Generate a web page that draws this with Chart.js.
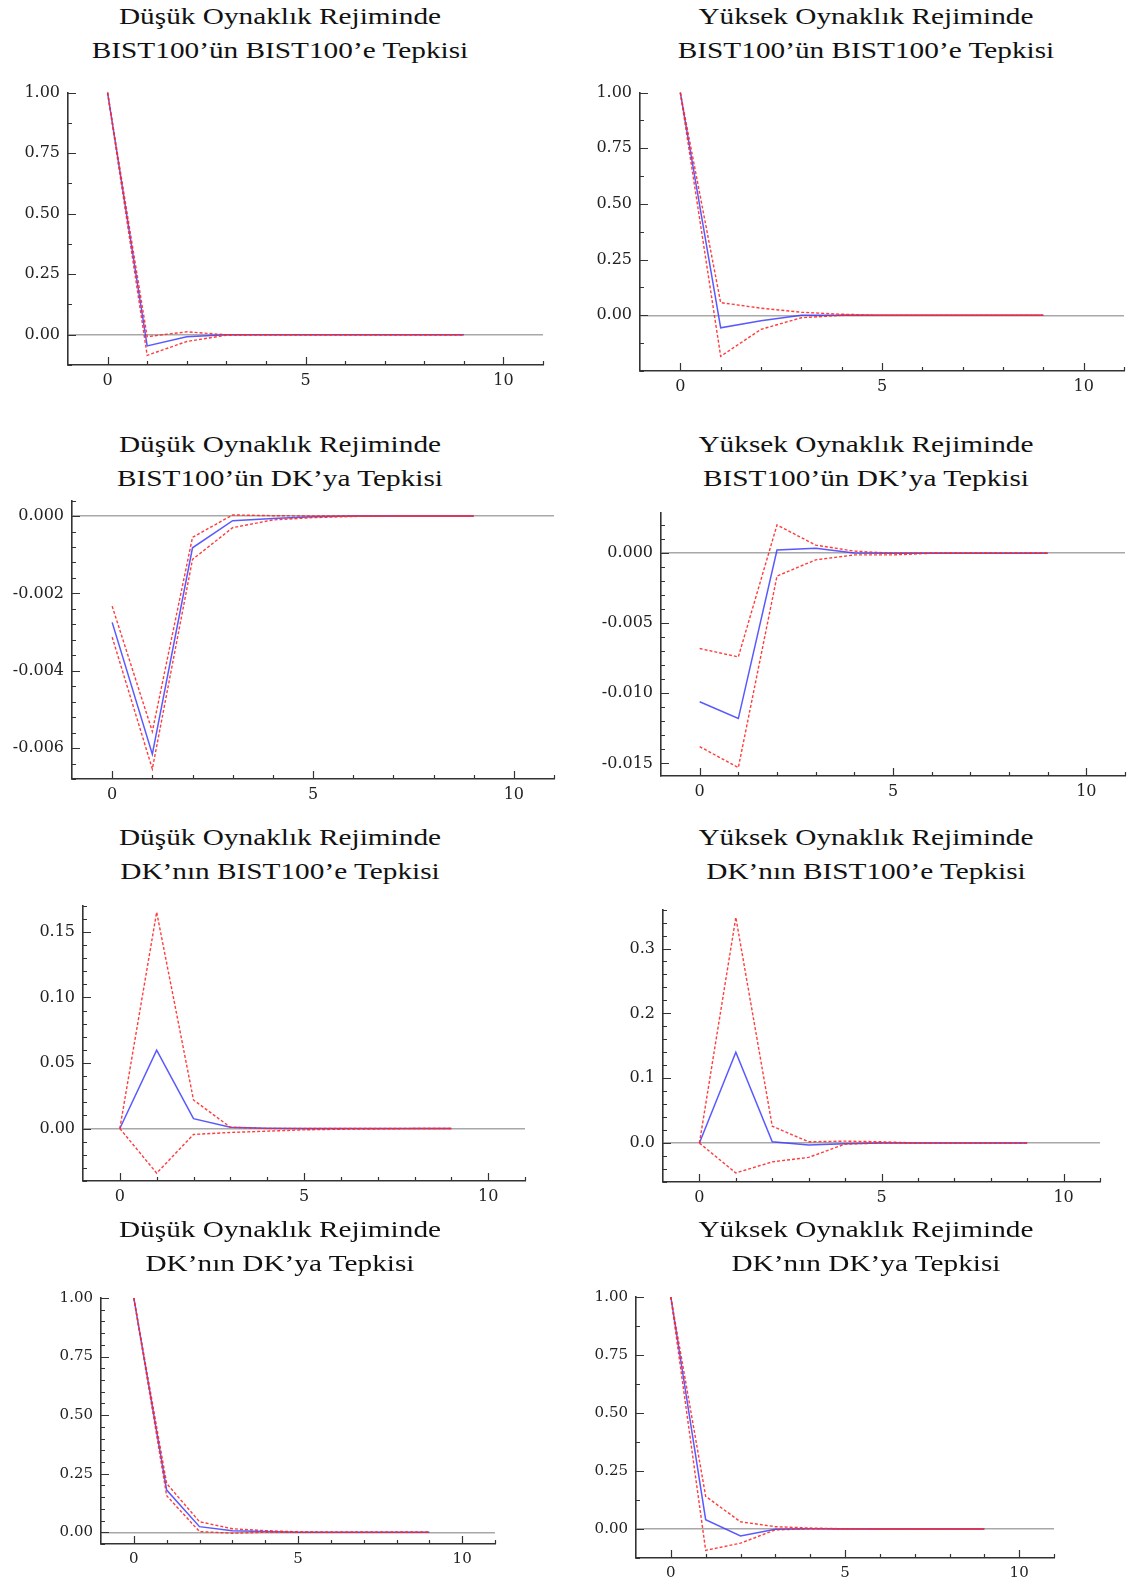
<!DOCTYPE html>
<html>
<head>
<meta charset="utf-8">
<script src="https://cdn.jsdelivr.net/npm/chart.js@4.4.1/dist/chart.umd.min.js"></script>
<style>
    body { margin: 0; background: #fff; width: 1136px; height: 1584px; position: relative; overflow: hidden; font-family: "Liberation Serif", "Times New Roman", serif; }
    .title { position: absolute; width: 480px; text-align: center; font-size: 24px; line-height: 33.6px; color: #111; white-space: nowrap; transform: scaleX(1.22); transform-origin: 50% 0; }
    canvas { position: absolute; }
</style>
</head>
<body>
<script>
// impulse horizon (periods) and x axis labels
const horizon = [0, 1, 2, 3, 4, 5, 6, 7, 8, 9];
const xTicks = [0, 5, 10];

const regimeLow = 'Düşük Oynaklık Rejiminde';
const regimeHigh = 'Yüksek Oynaklık Rejiminde';
const respBistBist = 'BIST100’ün BIST100’e Tepkisi';
const respBistDk = 'BIST100’ün DK’ya Tepkisi';
const respDkBist = 'DK’nın BIST100’e Tepkisi';
const respDkDk = 'DK’nın DK’ya Tepkisi';

// y tick labels
const yTicksUnit = [0, 0.25, 0.5, 0.75, 1];
const yTicksLowBistDk = [-0.006, -0.004, -0.002, 0];
const yTicksHighBistDk = [-0.015, -0.010, -0.005, 0];
const yTicksLowDkBist = [0, 0.05, 0.10, 0.15];
const yTicksHighDkBist = [0, 0.1, 0.2, 0.3];

// responses: point estimate, upper band, lower band
const lowBistBist   = [1.0, -0.046, -0.008, 0, 0, 0, 0, 0, 0, 0];
const lowBistBistUp = [1.0, -0.008, 0.012, 0, 0, 0, 0, 0, 0, 0];
const lowBistBistLo = [1.0, -0.085, -0.028, -0.002, 0, 0, 0, 0, 0, 0];

const highBistBist   = [1.0, -0.056, -0.024, 0, 0, 0, 0, 0, 0, 0];
const highBistBistUp = [1.0, 0.057, 0.032, 0.014, 0.005, 0, 0, 0, 0, 0];
const highBistBistLo = [1.0, -0.184, -0.063, -0.011, 0, 0, 0, 0, 0, 0];

const lowBistDk   = [-0.00275, -0.00616, -0.00082, -0.00012, -0.00006, -0.00002, 0, 0, 0, 0];
const lowBistDkUp = [-0.00233, -0.00557, -0.00055, 0.00003, 0.00001, 0, 0, 0, 0, 0];
const lowBistDkLo = [-0.00313, -0.00654, -0.00112, -0.0003, -0.0001, -0.00004, -0.00001, 0, 0, 0];

const highBistDk   = [-0.0106, -0.0118, 0.00023, 0.00035, 0.00002, 0, 0, 0, 0, 0];
const highBistDkUp = [-0.0068, -0.0074, 0.00202, 0.00058, 0.00015, 0, 0, 0, 0, 0];
const highBistDkLo = [-0.0138, -0.0153, -0.00163, -0.00047, -0.00012, -0.00012, 0, 0, 0, 0];

const lowDkBist   = [0, 0.0598, 0.0075, 0.001, 0.0002, 0, 0, 0, 0, 0];
const lowDkBistUp = [0, 0.165, 0.0218, 0.001, 0, 0, 0, 0, 0, 0];
const lowDkBistLo = [0, -0.034, -0.0045, -0.003, -0.002, -0.001, -0.0005, -0.0003, 0, 0];

const highDkBist   = [0, 0.140, 0.002, -0.003, -0.001, 0, 0, 0, 0, 0];
const highDkBistUp = [0, 0.348, 0.026, 0.002, 0.003, 0.002, 0, 0, 0, 0];
const highDkBistLo = [0, -0.046, -0.029, -0.022, -0.0015, 0, 0, 0, 0, 0];

const lowDkDk   = [1.0, 0.18, 0.024, 0.007, 0.003, 0, 0, 0, 0, 0];
const lowDkDkUp = [1.0, 0.208, 0.045, 0.015, 0.007, 0.002, 0, 0, 0, 0];
const lowDkDkLo = [1.0, 0.156, 0.003, -0.004, 0, 0, 0, 0, 0, 0];

const highDkDk   = [1.0, 0.04, -0.03, -0.001, 0.001, 0, 0, 0, 0, 0];
const highDkDkUp = [1.0, 0.141, 0.031, 0.01, 0.004, 0.001, 0, 0, 0, 0];
const highDkDkLo = [1.0, -0.092, -0.061, -0.004, 0.001, 0, 0, 0, 0, 0];

// panel layout: box = [axis left, plot top, plot right, axis bottom] in page px
const panels = [
    { t: [regimeLow, respBistBist], col: 0, row: 0, box: [68, 87, 543, 365], yr: [-0.125, 1], minor: 0.125, dec: 2, fs: 16,
      irf: lowBistBist, up: lowBistBistUp, lo: lowBistBistLo, yt: yTicksUnit },
    { t: [regimeHigh, respBistBist], col: 1, row: 0, box: [640, 87, 1124, 371], yr: [-0.25, 1], minor: 0.125, dec: 2, fs: 16,
      irf: highBistBist, up: highBistBistUp, lo: highBistBistLo, yt: yTicksUnit },
    { t: [regimeLow, respBistDk], col: 0, row: 1, box: [72, 495, 554, 779], yr: [-0.0068, 0.0004], minor: 0.0004, dec: 3, fs: 16,
      irf: lowBistDk, up: lowBistDkUp, lo: lowBistDkLo, yt: yTicksLowBistDk },
    { t: [regimeHigh, respBistDk], col: 1, row: 1, box: [661, 507, 1125, 776], yr: [-0.0159, 0.0029], minor: 0.001, dec: 3, fs: 16,
      irf: highBistDk, up: highBistDkUp, lo: highBistDkLo, yt: yTicksHighBistDk },
    { t: [regimeLow, respDkBist], col: 0, row: 2, box: [83, 900, 525, 1181], yr: [-0.04, 0.17], minor: 0.01, dec: 2, fs: 16,
      irf: lowDkBist, up: lowDkBistUp, lo: lowDkBistLo, yt: yTicksLowDkBist },
    { t: [regimeHigh, respDkBist], col: 1, row: 2, box: [663, 904, 1100, 1182], yr: [-0.06, 0.36], minor: 0.02, dec: 1, fs: 16,
      irf: highDkBist, up: highDkBistUp, lo: highDkBistLo, yt: yTicksHighDkBist },
    { t: [regimeLow, respDkDk], col: 0, row: 3, box: [101, 1293, 495, 1544], yr: [-0.05, 1], minor: 0.05, dec: 2, fs: 15,
      irf: lowDkDk, up: lowDkDkUp, lo: lowDkDkLo, yt: yTicksUnit },
    { t: [regimeHigh, respDkDk], col: 1, row: 3, box: [636, 1292, 1054, 1558], yr: [-0.125, 1], minor: 0.125, dec: 2, fs: 15,
      irf: highDkDk, up: highDkDkUp, lo: highDkDkLo, yt: yTicksUnit }
];

const titleCenter = [280, 866];
const titleBaseline = [25, 453, 846, 1238];

const AXIS_W = 75, PAD_TOP = 12, PAD_RIGHT = 8, AXIS_H = 34;

// tick marks pointing into the plot, with minor ticks
const innerTicks = {
    id: 'innerTicks',
    afterDatasetsDraw(chart, args, opts) {
        const { ctx, chartArea: a, scales: { x, y } } = chart;
        ctx.save();
        ctx.strokeStyle = '#333';
        ctx.lineWidth = 1.2;
        ctx.beginPath();
        const majors = y.ticks.map(t => t.value);
        majors.forEach(v => {
            const py = Math.round(y.getPixelForValue(v)) + 0.5;
            ctx.moveTo(a.left, py); ctx.lineTo(a.left + 8, py);
        });
        const step = opts.minor;
        for (let k = Math.ceil(y.min / step - 1e-6); k <= Math.floor(y.max / step + 1e-6); k++) {
            const v = k * step;
            if (majors.some(m => Math.abs(m - v) < step / 10)) continue;
            const py = Math.round(y.getPixelForValue(v)) + 0.5;
            ctx.moveTo(a.left, py); ctx.lineTo(a.left + 4, py);
        }
        for (let v = Math.ceil(x.min) + 1; v <= x.max; v++) {
            const len = xTicks.includes(v) ? 8 : 4;
            const px = Math.round(x.getPixelForValue(v)) + 0.5;
            ctx.moveTo(px, a.bottom); ctx.lineTo(px, a.bottom - len);
        }
        ctx.stroke();
        ctx.restore();
    }
};

const pts = arr => horizon.map((h, i) => ({ x: h, y: arr[i] }));

panels.forEach(p => {
    const [l, t, r, b] = p.box;

    const title = document.createElement('div');
    title.className = 'title';
    title.innerHTML = p.t[0] + '<br>' + p.t[1];
    title.style.left = (titleCenter[p.col] - 240) + 'px';
    title.style.top = (titleBaseline[p.row] - 24.9) + 'px';
    document.body.appendChild(title);

    const cv = document.createElement('canvas');
    cv.width = (r - l) + AXIS_W + PAD_RIGHT;
    cv.height = (b - t) + PAD_TOP + AXIS_H;
    cv.style.left = (l - AXIS_W) + 'px';
    cv.style.top = (t - PAD_TOP) + 'px';
    document.body.appendChild(cv);

    const band = arr => ({
        data: pts(arr), borderColor: 'rgba(255,40,40,0.9)', borderWidth: 1.4, borderDash: [3, 2],
        pointRadius: 0, tension: 0, fill: false
    });
    const tickFont = { family: 'DejaVu Serif', size: p.fs };

    new Chart(cv.getContext('2d'), {
        type: 'line',
        data: {
            datasets: [
                band(p.up),
                band(p.lo),
                { data: pts(p.irf), borderColor: 'rgba(60,60,255,0.85)', borderWidth: 1.5, pointRadius: 0, tension: 0, fill: false }
            ]
        },
        options: {
            responsive: false,
            animation: false,
            layout: { padding: { left: 0, top: PAD_TOP, right: PAD_RIGHT, bottom: 0 } },
            plugins: { legend: { display: false }, tooltip: { enabled: false }, innerTicks: { minor: p.minor } },
            datasets: { line: { clip: false } },
            scales: {
                x: {
                    type: 'linear', min: -1, max: 11,
                    afterBuildTicks: s => { s.ticks = xTicks.map(v => ({ value: v })); },
                    afterFit: s => { s.height = AXIS_H; },
                    grid: { display: false, drawTicks: false },
                    border: { display: true, color: '#333', width: 1.6 },
                    ticks: { autoSkip: false, maxRotation: 0, padding: 6, color: '#222', font: tickFont, callback: v => String(v) }
                },
                y: {
                    type: 'linear', min: p.yr[0], max: p.yr[1],
                    afterBuildTicks: s => { s.ticks = p.yt.map(v => ({ value: v })); },
                    afterFit: s => { s.width = AXIS_W; },
                    grid: { drawTicks: false, lineWidth: 1.5, color: c => (c.tick && Math.abs(c.tick.value) < 1e-12) ? '#a8a8a8' : 'rgba(0,0,0,0)' },
                    border: { display: true, color: '#333', width: 1.6 },
                    ticks: { autoSkip: false, padding: 8, color: '#222', font: tickFont, callback: v => v.toFixed(p.dec) }
                }
            }
        },
        plugins: [innerTicks]
    });
});
</script>
</body>
</html>
